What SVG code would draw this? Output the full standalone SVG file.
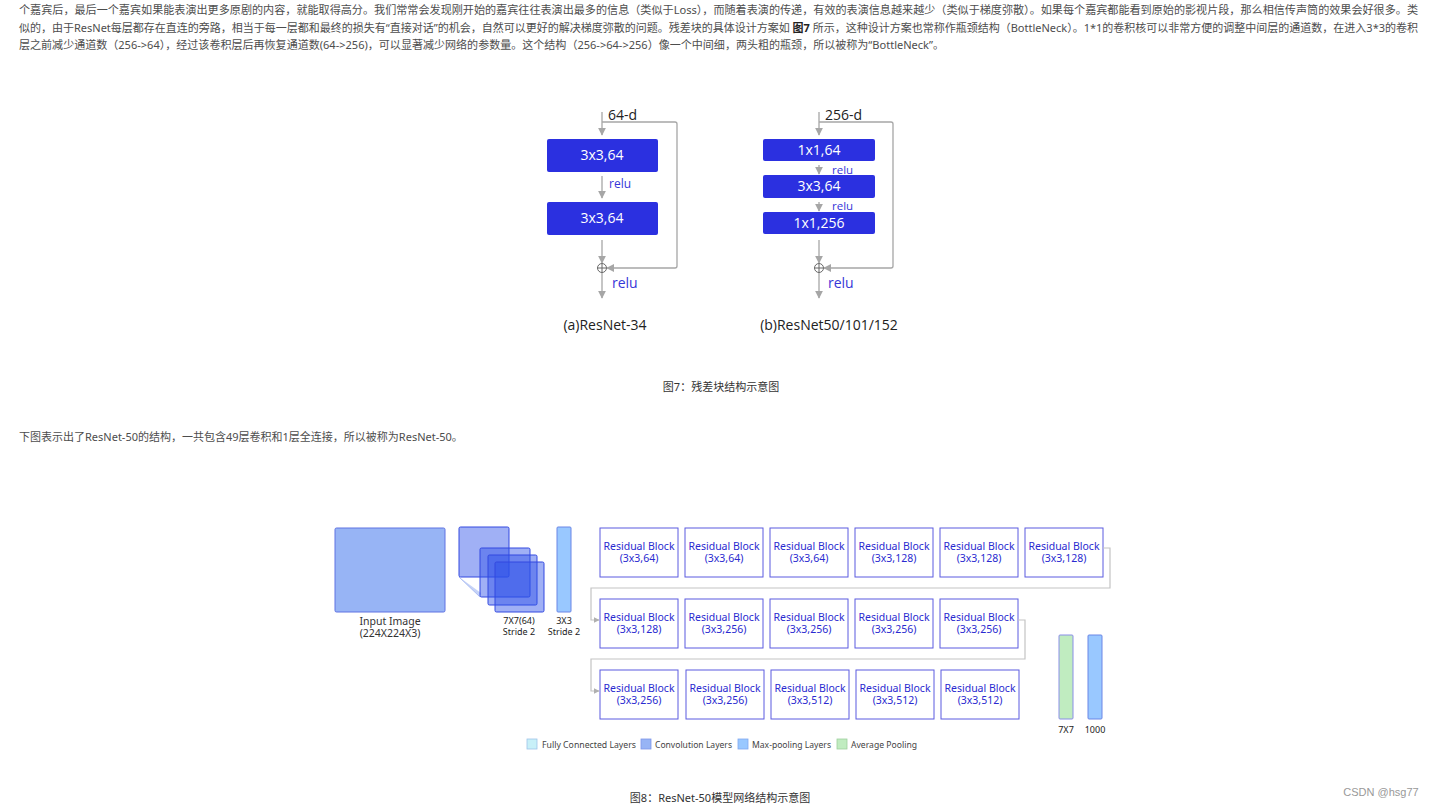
<svg xmlns="http://www.w3.org/2000/svg" width="1431" height="808" viewBox="0 0 1431 808">
<defs>
<style>
.para{font-family:"Noto Sans","Noto Sans CJK SC",sans-serif;font-size:11px;fill:#4d4d4d}
.cap{font-family:"Noto Sans","Noto Sans CJK SC",sans-serif;font-size:11px;fill:#333;text-anchor:middle}
.blk{fill:#2b30e0;rx:2}
.wt{font-family:"Open Sans","Noto Sans",sans-serif;font-size:14px;fill:#fff;text-anchor:middle}
.bt{font-family:"Open Sans","Noto Sans",sans-serif;font-size:14px;fill:#222}
.relu{font-family:"Open Sans","Noto Sans",sans-serif;fill:#3636d8}
.gl{stroke:#a6a6a6;stroke-width:1.3;fill:none}
.rb{fill:#fff;stroke:#5b5be0;stroke-width:1}
.rt{font-family:"Noto Sans","Open Sans",sans-serif;font-size:10.5px;fill:#2a2ad0;text-anchor:middle}
.lbl{font-family:"Noto Sans","Open Sans",sans-serif;font-size:9px;fill:#222;text-anchor:middle}
.inl{font-family:"Noto Sans","Open Sans",sans-serif;font-size:10.5px;fill:#333;text-anchor:middle}
.lg{font-family:"Noto Sans","Open Sans",sans-serif;font-size:9px;fill:#444}
.cn{stroke:#c4c4c4;stroke-width:1.2;fill:none}
</style>
<marker id="ah" viewBox="0 0 10 10" refX="9" refY="5" markerWidth="8" markerHeight="8" markerUnits="userSpaceOnUse" orient="auto"><path d="M0,0 L10,5 L0,10 z" fill="#a6a6a6"/></marker>
<marker id="as" viewBox="0 0 10 10" refX="9" refY="5" markerWidth="6" markerHeight="6" markerUnits="userSpaceOnUse" orient="auto"><path d="M0,0 L10,5 L0,10 z" fill="#b0b0b0"/></marker>
</defs>
<rect width="1431" height="808" fill="#fff"/>

<g id="paragraph">
<text class="para" x="19" y="14" textLength="1399" lengthAdjust="spacingAndGlyphs">个嘉宾后，最后一个嘉宾如果能表演出更多原剧的内容，就能取得高分。我们常常会发现刚开始的嘉宾往往表演出最多的信息（类似于Loss），而随着表演的传递，有效的表演信息越来越少（类似于梯度弥散）。如果每个嘉宾都能看到原始的影视片段，那么相信传声筒的效果会好很多。类</text>
<text class="para" x="19" y="32" textLength="1399" lengthAdjust="spacingAndGlyphs">似的，由于ResNet每层都存在直连的旁路，相当于每一层都和最终的损失有“直接对话”的机会，自然可以更好的解决梯度弥散的问题。残差块的具体设计方案如 <tspan font-weight="bold" fill="#222">图7</tspan> 所示，这种设计方案也常称作瓶颈结构（BottleNeck）。1*1的卷积核可以非常方便的调整中间层的通道数，在进入3*3的卷积</text>
<text class="para" x="19" y="49" textLength="925" lengthAdjust="spacingAndGlyphs">层之前减少通道数（256-&gt;64），经过该卷积层后再恢复通道数(64-&gt;256)，可以显著减少网络的参数量。这个结构（256-&gt;64-&gt;256）像一个中间细，两头粗的瓶颈，所以被称为“BottleNeck”。</text>
</g>

<g id="fig7a">
<text class="bt" x="608" y="120">64-d</text>
<rect class="blk" x="547" y="139" width="111" height="33"/>
<text class="wt" x="602" y="160">3x3,64</text>
<text class="relu" x="609" y="188" font-size="12">relu</text>
<rect class="blk" x="547" y="202" width="111" height="33"/>
<text class="wt" x="602" y="223">3x3,64</text>
<g stroke="#666" stroke-width="1" fill="none"><circle cx="602" cy="268" r="4.5"/><path d="M597.5,268 H606.5 M602,263.5 V272.5"/></g>
<text class="relu" x="612" y="288" font-size="14">relu</text>
<text class="bt" x="605" y="330" text-anchor="middle">(a)ResNet-34</text>
</g>

<g id="fig7b">
<text class="bt" x="825" y="120">256-d</text>
<rect class="blk" x="763" y="139" width="112" height="22"/>
<text class="wt" x="819" y="155">1x1,64</text>
<text class="relu" x="832" y="174" font-size="11.5">relu</text>
<rect class="blk" x="763" y="175" width="112" height="23"/>
<text class="wt" x="819" y="191">3x3,64</text>
<text class="relu" x="832" y="210" font-size="11.5">relu</text>
<rect class="blk" x="763" y="212" width="112" height="22"/>
<text class="wt" x="819" y="228">1x1,256</text>
<g stroke="#666" stroke-width="1" fill="none"><circle cx="819" cy="268" r="4.5"/><path d="M814.5,268 H823.5 M819,263.5 V272.5"/></g>
<text class="relu" x="828" y="288" font-size="14">relu</text>
<text class="bt" x="829" y="330" text-anchor="middle">(b)ResNet50/101/152</text>
</g>

<g id="fig7-connectors">
<path class="gl" d="M602,112 V135" marker-end="url(#ah)"/>
<path class="gl" d="M602,176 V198" marker-end="url(#ah)"/>
<path class="gl" d="M602,240 V263" marker-end="url(#ah)"/>
<path class="gl" d="M602,273 V298" marker-end="url(#ah)"/>
<path class="gl" d="M602,122 H675 Q677,122 677,124 V266 Q677,268 675,268 H607" marker-end="url(#ah)"/>
<path class="gl" d="M819,112 V135" marker-end="url(#ah)"/>
<path class="gl" d="M819,165 V174" marker-end="url(#ah)"/>
<path class="gl" d="M819,202 V211" marker-end="url(#ah)"/>
<path class="gl" d="M819,240 V263" marker-end="url(#ah)"/>
<path class="gl" d="M819,273 V298" marker-end="url(#ah)"/>
<path class="gl" d="M819,122 H891 Q893,122 893,124 V266 Q893,268 891,268 H824" marker-end="url(#ah)"/>
</g>

<text class="cap" x="721" y="391">图7：残差块结构示意图</text>
<text class="para" x="19" y="441">下图表示出了ResNet-50的结构，一共包含49层卷积和1层全连接，所以被称为ResNet-50。</text>

<g id="input-image">
<rect x="335" y="528" width="110" height="84" rx="1.5" fill="#97b4f5" stroke="#5f72e2" stroke-width="1"/>
<text class="inl" x="390" y="625">Input Image</text>
<text class="inl" x="390" y="637">(224X224X3)</text>
</g>

<g id="conv1">
<path d="M459,577 L480,597 L481,593 Z" fill="#b8c8f5" opacity="0.8"/>
<line x1="459" y1="577" x2="480" y2="597" stroke="#9fb3f0" stroke-width="0.8"/>
<g fill="#2c50e8" fill-opacity="0.45" stroke="#3348e0" stroke-width="1">
<rect x="459" y="527" width="50" height="50" rx="1.5"/>
<rect x="480" y="548" width="50" height="49" rx="1.5"/>
<rect x="488" y="555" width="49" height="50" rx="1.5"/>
<rect x="495" y="562" width="49" height="50" rx="1.5"/>
</g>
<text class="lbl" x="519" y="624">7X7(64)</text>
<text class="lbl" x="519" y="635">Stride 2</text>
</g>

<g id="maxpool">
<rect x="557" y="527" width="14" height="85" rx="1" fill="#99c8ff" stroke="#6a86e6" stroke-width="1"/>
<text class="lbl" x="564" y="624">3X3</text>
<text class="lbl" x="564" y="635">Stride 2</text>
</g>

<g id="row1">
<g id="rb1"><rect class="rb" x="600" y="528" width="78" height="49"/><text class="rt" x="639" y="550">Residual Block</text><text class="rt" x="639" y="562">(3x3,64)</text></g>
<g id="rb2"><rect class="rb" x="685" y="528" width="78" height="49"/><text class="rt" x="724" y="550">Residual Block</text><text class="rt" x="724" y="562">(3x3,64)</text></g>
<g id="rb3"><rect class="rb" x="770" y="528" width="78" height="49"/><text class="rt" x="809" y="550">Residual Block</text><text class="rt" x="809" y="562">(3x3,64)</text></g>
<g id="rb4"><rect class="rb" x="855" y="528" width="78" height="49"/><text class="rt" x="894" y="550">Residual Block</text><text class="rt" x="894" y="562">(3x3,128)</text></g>
<g id="rb5"><rect class="rb" x="940" y="528" width="78" height="49"/><text class="rt" x="979" y="550">Residual Block</text><text class="rt" x="979" y="562">(3x3,128)</text></g>
<g id="rb6"><rect class="rb" x="1025" y="528" width="78" height="49"/><text class="rt" x="1064" y="550">Residual Block</text><text class="rt" x="1064" y="562">(3x3,128)</text></g>
</g>

<g id="row2">
<g id="rb7"><rect class="rb" x="600" y="599" width="78" height="49"/><text class="rt" x="639" y="621">Residual Block</text><text class="rt" x="639" y="633">(3x3,128)</text></g>
<g id="rb8"><rect class="rb" x="685" y="599" width="78" height="49"/><text class="rt" x="724" y="621">Residual Block</text><text class="rt" x="724" y="633">(3x3,256)</text></g>
<g id="rb9"><rect class="rb" x="770" y="599" width="78" height="49"/><text class="rt" x="809" y="621">Residual Block</text><text class="rt" x="809" y="633">(3x3,256)</text></g>
<g id="rb10"><rect class="rb" x="855" y="599" width="78" height="49"/><text class="rt" x="894" y="621">Residual Block</text><text class="rt" x="894" y="633">(3x3,256)</text></g>
<g id="rb11"><rect class="rb" x="940" y="599" width="78" height="49"/><text class="rt" x="979" y="621">Residual Block</text><text class="rt" x="979" y="633">(3x3,256)</text></g>
</g>

<g id="row3">
<g id="rb12"><rect class="rb" x="600" y="670" width="78" height="49"/><text class="rt" x="639" y="692">Residual Block</text><text class="rt" x="639" y="704">(3x3,256)</text></g>
<g id="rb13"><rect class="rb" x="686" y="670" width="78" height="49"/><text class="rt" x="725" y="692">Residual Block</text><text class="rt" x="725" y="704">(3x3,256)</text></g>
<g id="rb14"><rect class="rb" x="771" y="670" width="78" height="49"/><text class="rt" x="810" y="692">Residual Block</text><text class="rt" x="810" y="704">(3x3,512)</text></g>
<g id="rb15"><rect class="rb" x="856" y="670" width="78" height="49"/><text class="rt" x="895" y="692">Residual Block</text><text class="rt" x="895" y="704">(3x3,512)</text></g>
<g id="rb16"><rect class="rb" x="941" y="670" width="78" height="49"/><text class="rt" x="980" y="692">Residual Block</text><text class="rt" x="980" y="704">(3x3,512)</text></g>
</g>

<g id="fig8-connectors">
<path class="cn" d="M1103,548 H1110 V588 H591 V620 H599" marker-end="url(#as)"/>
<path class="cn" d="M1018,620 H1025 V659 H591 V691 H599" marker-end="url(#as)"/>
</g>

<g id="avgpool">
<rect x="1059" y="635" width="14" height="84" rx="1" fill="#c0ecc0" stroke="#8a8ee8" stroke-width="1"/>
<text class="lbl" x="1066" y="733">7X7</text>
</g>
<g id="fc">
<rect x="1088" y="635" width="14" height="84" rx="1" fill="#99c8ff" stroke="#6a86e6" stroke-width="1"/>
<text class="lbl" x="1095" y="733">1000</text>
</g>

<g id="legend">
<rect x="527" y="739" width="10" height="10" fill="#c8f0f8" stroke="#9fc4e8" stroke-width="0.8"/>
<text class="lg" x="542" y="748" textLength="94" lengthAdjust="spacingAndGlyphs">Fully Connected Layers</text>
<rect x="641" y="739" width="10" height="10" fill="#97b4f5" stroke="#7f96e8" stroke-width="0.8"/>
<text class="lg" x="655" y="748" textLength="77" lengthAdjust="spacingAndGlyphs">Convolution Layers</text>
<rect x="738" y="739" width="10" height="10" fill="#99c8ff" stroke="#80a8f0" stroke-width="0.8"/>
<text class="lg" x="752" y="748" textLength="79" lengthAdjust="spacingAndGlyphs">Max-pooling Layers</text>
<rect x="837" y="739" width="10" height="10" fill="#c0ecc0" stroke="#9fd09f" stroke-width="0.8"/>
<text class="lg" x="851" y="748" textLength="66" lengthAdjust="spacingAndGlyphs">Average Pooling</text>
</g>

<text class="cap" x="720" y="802">图8：ResNet-50模型网络结构示意图</text>
<text x="1381" y="796" text-anchor="middle" font-family="'Liberation Sans',sans-serif" font-size="11" fill="#999">CSDN @hsg77</text>
</svg>
